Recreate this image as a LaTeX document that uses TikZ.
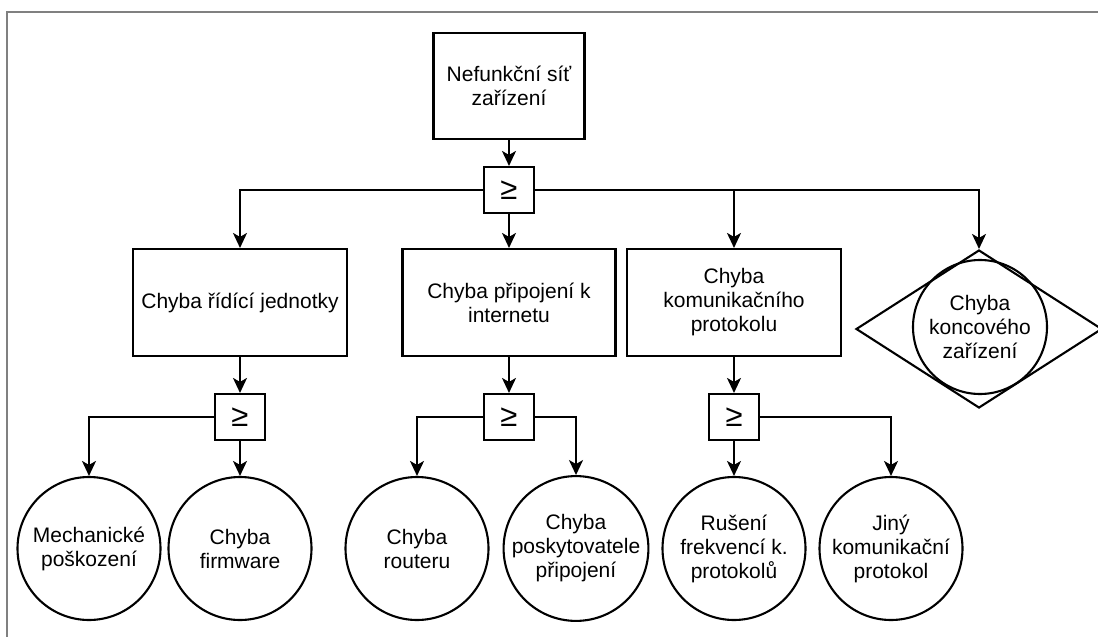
\documentclass[tikz,border=0pt]{standalone}
\usepackage{fontspec}
\setmainfont{Liberation Sans}
\usetikzlibrary{arrows.meta,shapes.geometric}
\tikzset{
  box/.style={draw, line width=2.1pt, rectangle, align=center, inner sep=2pt,
    font=\fontsize{21}{24}\selectfont},
  gate/.style={draw, line width=2.1pt, rectangle, minimum width=50pt, minimum height=46pt,
    inner sep=0pt, font=\fontsize{31}{31}\selectfont},
  event/.style={draw, line width=2.1pt, circle, minimum size=143pt, inner sep=0pt,
    align=center, font=\fontsize{21}{24}\selectfont},
  conn/.style={line width=2pt, -{Stealth[length=15pt, width=14pt, inset=4pt]}},
  frame/.style={line width=1.6pt, draw=black!50}
}
\begin{document}
\begin{tikzpicture}[x=1pt,y=-1pt]
\useasboundingbox (0,0) rectangle (1098,637);
\fill[white] (0,0) rectangle (1098,637);
\draw[frame] (7,637) -- (7,12) -- (1098,12);

\node[box, minimum width=151pt, minimum height=106pt] (top) at (509,86) {Nefunkční síť\\zařízení};
\node[gate] (g0) at (509,190) {≥};

\node[box, minimum width=214pt, minimum height=107pt] (b1) at (240,302.5) {Chyba řídící jednotky};
\node[box, minimum width=213pt, minimum height=107pt] (b2) at (509,302.5) {Chyba připojení k\\internetu};
\node[box, minimum width=214pt, minimum height=107pt] (b3) at (734,302.5) {Chyba\\komunikačního\\protokolu};

\node[draw, line width=2.1pt, diamond, minimum width=246pt, minimum height=158pt, inner sep=0pt] (d) at (979,329) {};
\node[event, minimum size=134pt] (c) at (980,327) {Chyba\\koncového\\zařízení};

\node[gate] (g1) at (240,417) {≥};
\node[gate] (g2) at (509,417) {≥};
\node[gate] (g3) at (734,417) {≥};

\node[event] (e1) at (89,548.5) {Mechanické\\poškození};
\node[event] (e2) at (240,548.5) {Chyba\\firmware};
\node[event] (e3) at (417,548.5) {Chyba\\routeru};
\node[event] (e4) at (576,548.5) {Chyba\\poskytovatele\\připojení};
\node[event] (e5) at (734,548.5) {Rušení\\frekvencí k.\\protokolů};
\node[event] (e6) at (891,548.5) {Jiný\\komunikační\\protokol};

\draw[conn] (top.south) -- (g0.north);
\draw[conn] (g0.south) -- (b2.north);
\draw[conn] (g0.west) -| (b1.north);
\draw[conn] (g0.east) -| (b3.north);
\draw[conn] (g0.east) -| (d.north);

\draw[conn] (b1.south) -- (g1.north);
\draw[conn] (b2.south) -- (g2.north);
\draw[conn] (b3.south) -- (g3.north);

\draw[conn] (g1.west) -| (e1.north);
\draw[conn] (g1.south) -- (e2.north);
\draw[conn] (g2.west) -| (e3.north);
\draw[conn] (g2.east) -| (e4.north);
\draw[conn] (g3.south) -- (e5.north);
\draw[conn] (g3.east) -| (e6.north);
\end{tikzpicture}
\end{document}
